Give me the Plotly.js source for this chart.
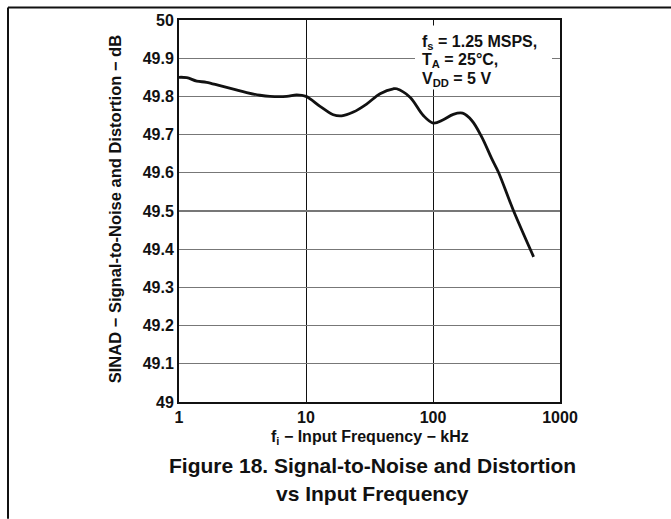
<!DOCTYPE html>
<html>
<head>
<meta charset="utf-8">
<script src="https://cdn.plot.ly/plotly-3.0.1.min.js"></script>
<style>
  html, body { margin: 0; padding: 0; background: #fff; }
  #chart { width: 671px; height: 519px; }
</style>
</head>
<body>
<div id="chart"></div>
<script>
// Input frequency (kHz)
const freqKHz = [1, 1.15, 1.38, 1.65, 2.1, 2.68, 3.41, 4.34, 5.2, 7.05, 8.45, 10, 12.9, 16.4, 19.1, 23.6, 30, 38.3, 48.7, 51.8, 65.9, 83.9, 100.5, 120.5, 144.5, 171, 202, 241.7, 290, 327, 429, 620];
// SINAD (dB)
const sinadDB = [49.85, 49.849, 49.84, 49.837, 49.828, 49.819, 49.81, 49.803, 49.80, 49.80, 49.804, 49.80, 49.774, 49.752, 49.749, 49.759, 49.78, 49.807, 49.82, 49.82, 49.798, 49.75, 49.73, 49.739, 49.753, 49.756, 49.737, 49.694, 49.637, 49.602, 49.502, 49.38];

const xTickVals = [1, 10, 100, 1000];
const xTickText = ['1', '10', '100', '1000'];
const yTickVals = [49, 49.1, 49.2, 49.3, 49.4, 49.5, 49.6, 49.7, 49.8, 49.9, 50];
const yTickText = ['49', '49.1', '49.2', '49.3', '49.4', '49.5', '49.6', '49.7', '49.8', '49.9', '50'];
const condLines = ['f<sub>s</sub> = 1.25 MSPS,', 'T<sub>A</sub> = 25°C,', 'V<sub>DD</sub> = 5 V'];

const FONT = 'Liberation Sans, Arial, sans-serif';

const trace = {
  x: freqKHz,
  y: sinadDB,
  type: 'scatter',
  mode: 'lines',
  line: { color: '#111', width: 2.8, shape: 'spline', smoothing: 1 },
  hoverinfo: 'x+y'
};

// plot area in pixels: left 179, right 560, top 19.5, bottom 402
const L = 179, R = 560, T = 19.5, B = 402;
const W = R - L, H = B - T;
const px = v => (v - L) / W;
const py = v => (B - v) / H;

const annotations = [
  {
    xref: 'paper', yref: 'paper', x: px(115), y: py(209),
    text: 'SINAD − Signal-to-Noise and Distortion − dB',
    textangle: -90, showarrow: false, xanchor: 'center', yanchor: 'middle',
    font: { size: 16.5, weight: 'bold', family: FONT, color: '#111' }
  },
  {
    xref: 'paper', yref: 'paper', x: px(369.5), y: py(438),
    text: 'f<sub>i</sub> − Input Frequency − kHz',
    showarrow: false, xanchor: 'center', yanchor: 'middle',
    font: { size: 16, weight: 'bold', family: FONT, color: '#111' }
  },
  {
    xref: 'paper', yref: 'paper', x: px(372), y: py(466),
    text: 'Figure 18. Signal-to-Noise and Distortion',
    showarrow: false, xanchor: 'center', yanchor: 'middle',
    font: { size: 21, weight: 'bold', family: FONT, color: '#111' }
  },
  {
    xref: 'paper', yref: 'paper', x: px(372), y: py(494),
    text: 'vs Input Frequency',
    showarrow: false, xanchor: 'center', yanchor: 'middle',
    font: { size: 21, weight: 'bold', family: FONT, color: '#111' }
  }
];
const condY = [42, 60.5, 79];
condLines.forEach((t, i) => {
  annotations.push({
    xref: 'paper', yref: 'paper', x: px(420), y: py(condY[i]),
    text: t, showarrow: false, xanchor: 'left', yanchor: 'middle', align: 'left',
    font: { size: 16, weight: 'bold', family: FONT, color: '#111' }
  });
});

const layout = {
  width: 671,
  height: 519,
  margin: { l: L, r: 671 - R, t: T, b: 519 - B, pad: 0 },
  paper_bgcolor: '#fff',
  plot_bgcolor: '#fff',
  showlegend: false,
  font: { family: FONT, color: '#111' },
  xaxis: {
    type: 'log',
    range: [0, 3],
    tickvals: xTickVals,
    ticktext: xTickText,
    ticks: '',
    tickfont: { size: 16, weight: 'bold', family: FONT, color: '#111' },
    showgrid: true,
    gridcolor: '#111',
    gridwidth: 1,
    showline: true,
    linecolor: '#111',
    linewidth: 2,
    mirror: true,
    zeroline: false,
    fixedrange: true
  },
  yaxis: {
    range: [49, 50],
    tickvals: yTickVals,
    ticktext: yTickText,
    ticks: '',
    tickfont: { size: 16, weight: 'bold', family: FONT, color: '#111' },
    showgrid: true,
    gridcolor: '#777',
    gridwidth: 1.2,
    showline: true,
    linecolor: '#111',
    linewidth: 2,
    mirror: true,
    zeroline: false,
    fixedrange: true
  },
  shapes: [
    { type: 'rect', xref: 'paper', yref: 'paper', x0: px(415), x1: px(552), y0: py(89), y1: py(25), fillcolor: '#fff', line: { width: 0 }, layer: 'above' },
    { type: 'line', xref: 'paper', yref: 'paper', x0: px(8), x1: px(671), y0: py(7), y1: py(7), line: { color: '#111', width: 2 } },
    { type: 'line', xref: 'paper', yref: 'paper', x0: px(8), x1: px(8), y0: py(7), y1: py(519), line: { color: '#111', width: 2 } }
  ],
  annotations: annotations
};

Plotly.newPlot('chart', [trace], layout, { displayModeBar: false, staticPlot: true });
</script>
</body>
</html>
